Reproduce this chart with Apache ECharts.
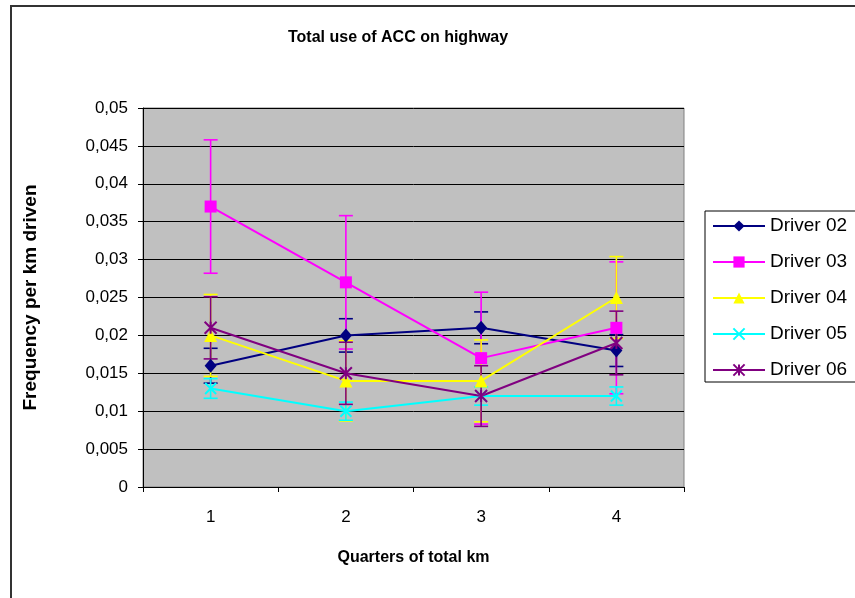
<!DOCTYPE html>
<html>
<head>
<meta charset="utf-8">
<script src="https://cdn.jsdelivr.net/npm/echarts@6/dist/echarts.min.js"></script>
<style>
html,body{margin:0;padding:0;background:#fff;}
#chart{width:855px;height:598px;}
</style>
</head>
<body>
<div id="chart"></div>
<script>
const categories = ['1', '2', '3', '4'];
const seriesNames = ['Driver 02', 'Driver 03', 'Driver 04', 'Driver 05', 'Driver 06'];
const driver02 = [0.016, 0.020, 0.021, 0.018];
const driver03 = [0.037, 0.027, 0.017, 0.021];
const driver04 = [0.020, 0.014, 0.014, 0.025];
const driver05 = [0.013, 0.010, 0.012, 0.012];
const driver06 = [0.021, 0.015, 0.012, 0.019];
const err02 = [0.0023, 0.0022, 0.0021, 0.0021];
const err03 = [0.0088, 0.0088, 0.0087, 0.0087];
const err04 = [0.0054, 0.0053, 0.0054, 0.0054];
const err05 = [0.0013, 0.0012, 0.0012, 0.0012];
const err06 = [0.0041, 0.0041, 0.0040, 0.0042];

const values = [driver02, driver03, driver04, driver05, driver06];
const errors = [err02, err03, err04, err05, err06];
const colors = ['#000080', '#FF00FF', '#FFFF00', '#00FFFF', '#800080'];
const symbols = ['diamond', 'rect', 'triangle',
  'path://M0,0L10,10M10,0L0,10',
  'path://M0,0L10,10M10,0L0,10M5,0L5,10'];
const symbolSizes = [[12, 14], 12, 13, 11, 12];

const FONT = 'Liberation Sans, Arial, sans-serif';

function errorSeries(i) {
  const data = categories.map((c, k) => [k, values[i][k] - errors[i][k], values[i][k] + errors[i][k]]);
  return {
    type: 'custom',
    name: seriesNames[i] + ' err',
    z: 1,
    silent: true,
    renderItem: function (params, api) {
      const x = api.value(0);
      const lo = api.coord([x, api.value(1)]);
      const hi = api.coord([x, api.value(2)]);
      const hw = 7;
      const style = { stroke: colors[i], lineWidth: 1.6 };
      return {
        type: 'group',
        children: [
          { type: 'line', shape: { x1: lo[0], y1: lo[1], x2: hi[0], y2: hi[1] }, style: style },
          { type: 'line', shape: { x1: lo[0] - hw, y1: lo[1], x2: lo[0] + hw, y2: lo[1] }, style: style },
          { type: 'line', shape: { x1: hi[0] - hw, y1: hi[1], x2: hi[0] + hw, y2: hi[1] }, style: style }
        ]
      };
    },
    encode: { x: 0, y: [1, 2] },
    data: data
  };
}

function lineSeries(i) {
  const isPath = i >= 3;
  return {
    type: 'line',
    name: seriesNames[i],
    z: 3,
    data: values[i],
    symbol: symbols[i],
    symbolSize: symbolSizes[i],
    showAllSymbol: true,
    lineStyle: { color: colors[i], width: 2 },
    itemStyle: isPath ? { color: colors[i], borderColor: colors[i], borderWidth: 2 } : { color: colors[i], borderWidth: 0 }
  };
}

const series = [];
for (let i = 0; i < 5; i++) series.push(errorSeries(i));
for (let i = 0; i < 5; i++) series.push(lineSeries(i));

const chart = echarts.init(document.getElementById('chart'), null, { renderer: 'canvas' });
chart.setOption({
  animation: false,
  backgroundColor: '#ffffff',
  title: {
    text: 'Total use of ACC on highway',
    left: 288,
    top: 30,
    padding: 0,
    textStyle: { fontFamily: FONT, fontSize: 16, fontWeight: 'bold', color: '#000' }
  },
  graphic: [{
    type: 'rect',
    shape: { x: 11, y: 6, width: 1000, height: 1000 },
    style: { fill: 'none', stroke: '#333', lineWidth: 2 },
    silent: true,
    z: -10
  }],
  legend: {
    orient: 'vertical',
    left: 705,
    top: 211,
    data: seriesNames,
    itemWidth: 52,
    itemHeight: 14,
    itemGap: 16,
    padding: [5, 40, 2, 7],
    borderColor: '#000',
    borderWidth: 1,
    backgroundColor: '#fff',
    textStyle: { fontFamily: FONT, fontSize: 19, color: '#000', lineHeight: 20 }
  },
  grid: {
    left: 143, top: 108, width: 541, height: 379,
    show: true,
    backgroundColor: '#C0C0C0',
    borderColor: '#808080',
    borderWidth: 1
  },
  xAxis: {
    type: 'category',
    data: categories,
    boundaryGap: true,
    name: 'Quarters of total km',
    nameLocation: 'middle',
    nameGap: 63,
    nameTextStyle: { fontFamily: FONT, fontSize: 16, fontWeight: 'bold', color: '#000' },
    axisLine: { lineStyle: { color: '#000', width: 1 } },
    axisTick: { show: true, alignWithLabel: false, length: 5, lineStyle: { color: '#000' } },
    axisLabel: { margin: 22, fontFamily: FONT, fontSize: 17, color: '#000' },
    splitLine: { show: false }
  },
  yAxis: {
    type: 'value',
    min: 0,
    max: 0.05,
    interval: 0.005,
    name: 'Frequency per km driven',
    nameLocation: 'middle',
    nameGap: 103,
    nameTextStyle: { fontFamily: FONT, fontSize: 19, fontWeight: 'bold', color: '#000' },
    axisLine: { show: true, lineStyle: { color: '#000', width: 1 } },
    axisTick: { show: true, length: 5, lineStyle: { color: '#000' } },
    axisLabel: {
      margin: 15, fontFamily: FONT, fontSize: 17, color: '#000',
      formatter: function (v) { return String(Number(v.toFixed(4))).replace('.', ','); }
    },
    splitLine: { show: true, lineStyle: { color: '#000', width: 1 } }
  },
  series: series
});
</script>
</body>
</html>
